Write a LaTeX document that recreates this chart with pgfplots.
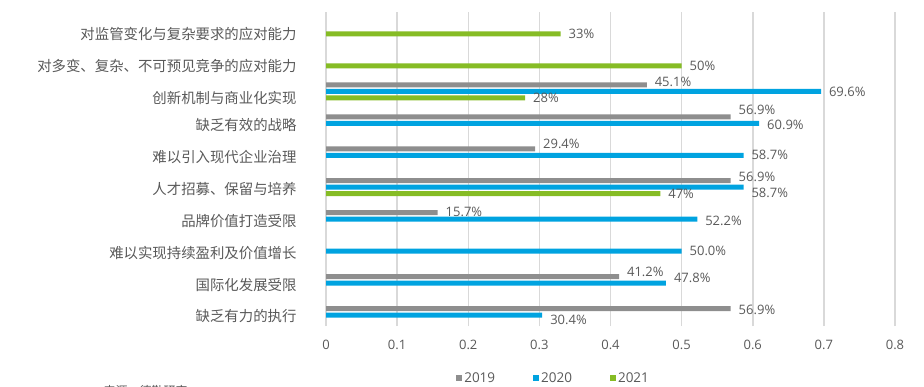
\documentclass[border=0pt]{standalone}
\usepackage{fontspec}
\usepackage{pgfplots}
\usepackage{pgfplotstable}
\pgfplotsset{compat=1.18}
\setmainfont{Open Sans}
\newfontfamily\cjk{Noto Sans CJK SC}
\definecolor{cgray}{HTML}{8E8E8E}
\definecolor{cblue}{HTML}{00A3E0}
\definecolor{cgreen}{HTML}{86BC25}
\definecolor{ctext}{HTML}{595959}
\definecolor{cgrid}{HTML}{D9D9D9}

% 2019
\pgfplotstableread{
y x lab dy
0 0.569 56.9 -1
1 0.412 41.2 5
3 0.157 15.7 1
4 0.569 56.9 4
5 0.294 29.4 5
6 0.569 56.9 7
7 0.451 45.1 3
}\dataA
% 2020
\pgfplotstableread{
y x lab dy
0 0.304 30.4 -5
1 0.478 47.8 5
2 0.500 50.0 0
3 0.522 52.2 -2
4 0.587 58.7 -6
5 0.587 58.7 0
6 0.609 60.9 -2
7 0.696 69.6 0
}\dataB
% 2021
\pgfplotstableread{
y x lab dy
4 0.47 47 0
7 0.28 28 0
8 0.50 50 0
9 0.33 33 0
}\dataC

\begin{document}
\begin{tikzpicture}
\path[use as bounding box] (0,0) rectangle (924pt,-387pt);
\begin{axis}[
  at={(326pt,-326pt)}, anchor=south west,
  scale only axis, width=569pt, height=314pt,
  xbar, bar width=5pt,
  xmin=0, xmax=0.8, ymin=-0.344, ymax=9.485,
  xtick={0,0.1,0.2,0.3,0.4,0.5,0.6,0.7,0.8},
  xticklabels={0,0.1,0.2,0.3,0.4,0.5,0.6,0.7,0.8},
  ytick={0,1,2,3,4,5,6,7,8,9},
  yticklabels={缺乏有力的执行,国际化发展受限,难以实现持续盈利及价值增长,品牌价值打造受限,人才招募、保留与培养,难以引入现代企业治理,缺乏有效的战略,创新机制与商业化实现,对多变、复杂、不可预见竞争的应对能力,对监管变化与复杂要求的应对能力},
  yticklabel style={font=\cjk\fontsize{14.4}{14.4}\selectfont, text=ctext, xshift=-26pt,
    yshift={ifthenelse(\ticknum>6,-7,-1.5)*1pt}},
  xticklabel style={font=\fontsize{13}{13}\selectfont, text=ctext, yshift=-11pt},
  major tick length=0pt,
  axis line style={draw=none},
  xmajorgrids, grid style={cgrid, line width=1.5pt},
  point meta=explicit symbolic,
  nodes near coords={\pgfplotspointmeta\%},
  visualization depends on={\thisrow{dy} \as \dy},
  nodes near coords style={anchor=west, xshift=4.5pt, yshift=\dy pt, font=\fontsize{13}{13}\selectfont, text=ctext},
  legend style={at={(0.40,-0.166)}, anchor=center, legend columns=3, draw=none, fill=none,
    font=\fontsize{13.5}{13.5}\selectfont, text=ctext,
    /tikz/every even column/.append style={column sep=36pt}},
]
\addplot[fill=cgray, draw=none, bar shift=6.5pt,
  legend image code/.code={\fill[cgray] (0pt,-3pt) rectangle (6pt,3pt);}]
  table[x=x, y=y, meta=lab] {\dataA};
\addplot[fill=cblue, draw=none, bar shift=0pt,
  legend image code/.code={\fill[cblue] (0pt,-3pt) rectangle (6pt,3pt);}]
  table[x=x, y=y, meta=lab] {\dataB};
\addplot[fill=cgreen, draw=none, bar shift=-6.5pt,
  legend image code/.code={\fill[cgreen] (0pt,-3pt) rectangle (6pt,3pt);}]
  table[x=x, y=y, meta=lab] {\dataC};
\legend{2019,2020,2021}
\end{axis}
\node[anchor=west, font=\cjk\fontsize{12}{12}\selectfont, text=ctext] at (100pt,-391pt) {来源：德勤研究};
\end{tikzpicture}
\end{document}
